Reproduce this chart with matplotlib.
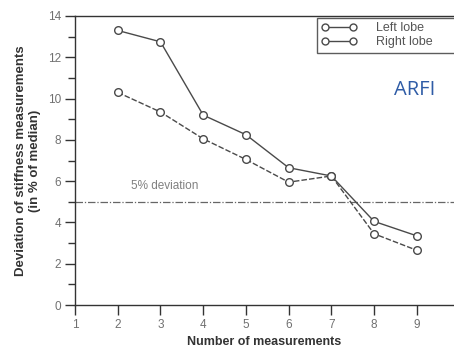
import matplotlib
matplotlib.use("Agg")
import matplotlib.pyplot as plt
from matplotlib.lines import Line2D

# data
n_meas = [2, 3, 4, 5, 6, 7, 8, 9]
left_lobe = [13.3, 12.75, 9.2, 8.25, 6.65, 6.25, 4.05, 3.35]
right_lobe = [10.3, 9.35, 8.05, 7.05, 5.95, 6.25, 3.45, 2.65]
x_ticks = [1, 2, 3, 4, 5, 6, 7, 8, 9]
y_ticks = [0, 2, 4, 6, 8, 10, 12, 14]
threshold = 5

plt.rcParams['font.family'] = ['Liberation Sans', 'DejaVu Sans']

fig = plt.figure(figsize=(4.54, 3.52), dpi=100)
ax = fig.add_axes([75 / 454, 47 / 352, 1 - 75 / 454, 289 / 352])

line_col = '#4a4a4a'
ax.plot(n_meas, left_lobe, '-', color=line_col, lw=1.0, marker='o',
        ms=5.5, mfc='white', mec=line_col, mew=1.0, zorder=3)
ax.plot(n_meas, right_lobe, color=line_col, lw=1.0, dashes=(4, 1.5),
        marker='o', ms=5.5, mfc='white', mec=line_col, mew=1.0, zorder=3)

ax.axhline(threshold, color='#666666', lw=0.9, dashes=(6, 1.5, 1, 1.5))
ax.text(2.3, 5.75, '5% deviation', fontsize=8.5, color='#808080',
        va='center', ha='left')

ax.set_xlim(1, 9.87)
ax.set_ylim(0, 14)
ax.set_xticks(x_ticks)
ax.set_yticks(y_ticks)
ax.set_yticks(range(1, 14, 2), minor=True)
ax.tick_params(axis='both', which='major', direction='out', length=7,
               width=1.0, color='#333333', labelsize=8.5,
               labelcolor='#707070', pad=3)
ax.tick_params(axis='y', which='minor', direction='out', length=5,
               width=1.0, color='#333333')

ax.spines['right'].set_visible(False)
for s in ['left', 'bottom', 'top']:
    ax.spines[s].set_color('#333333')
    ax.spines[s].set_linewidth(1.0)

ax.set_xlabel('Number of measurements', fontsize=9, fontweight='bold',
              color='#333333', labelpad=4)
ax.set_ylabel('Deviation of stiffness measurements\n(in % of median)',
              fontsize=9.5, fontweight='bold', color='#333333', labelpad=5)

handles = [
    Line2D([0, 1], [0, 0], color=line_col, lw=1.0, marker='o', ms=5,
           mfc='white', mec=line_col),
    Line2D([0, 1], [0, 0], color=line_col, lw=1.0, marker='o', ms=5,
           mfc='white', mec=line_col),
]
leg = fig.legend(handles, ['Left lobe', 'Right lobe'], loc='upper left',
                 bbox_to_anchor=(317 / 454, 1 - 63 / 352, 0.8, 45 / 352),
                 mode='expand', fontsize=9, numpoints=2, frameon=True,
                 fancybox=False, borderpad=0.35, labelspacing=0.15,
                 handlelength=2.8, handletextpad=1.6, borderaxespad=0)
leg.get_frame().set_edgecolor('#333333')
leg.get_frame().set_linewidth(1.0)
for t in leg.get_texts():
    t.set_color('#555555')

fig.text(394 / 454, 1 - 90 / 352, 'ARFI', fontsize=14.5, color='#2f5ca6',
         ha='left', va='center', family=['Open Sans', 'DejaVu Sans'])

fig.savefig('out.png', dpi=100)
